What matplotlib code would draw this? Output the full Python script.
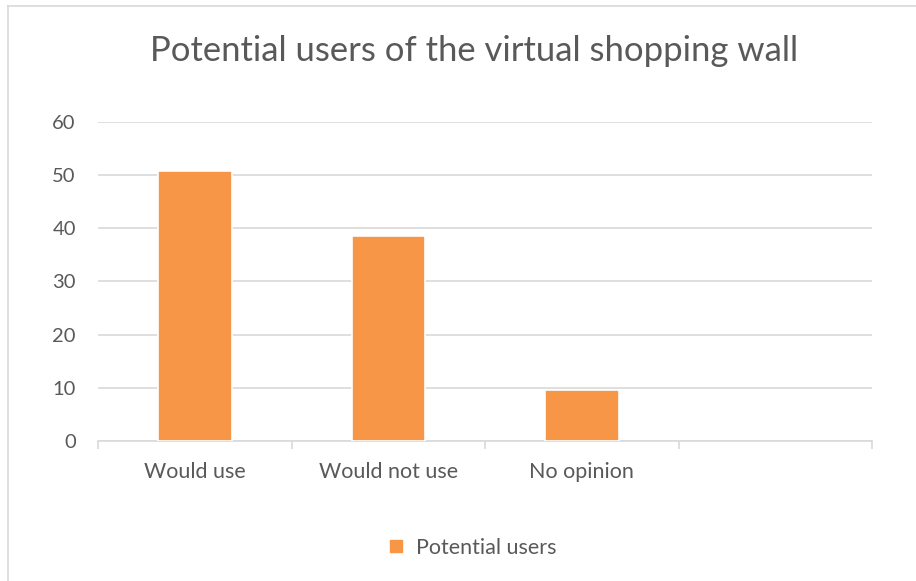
import matplotlib.pyplot as plt
from matplotlib.lines import Line2D

# survey answers
categories = ['Would use', 'Would not use', 'No opinion', '']
values = [50.7, 38.6, 9.6]
series_name = 'Potential users'

bar_color = '#F79646'
text_color = '#595959'
grid_color = '#D9D9D9'

plt.rcParams['font.family'] = ['Lato', 'DejaVu Sans']

fig = plt.figure(figsize=(9.16, 5.81), dpi=100)
ax = fig.add_axes([0.107, 0.241, 0.845, 0.549])

# chart frame (only top and left edges fall inside the image)
fig.add_artist(Line2D([7.5 / 916, 7.5 / 916], [0, 1 - 5.5 / 581],
                      color=grid_color, lw=1.2, transform=fig.transFigure))
fig.add_artist(Line2D([7.5 / 916, 1], [1 - 5.5 / 581, 1 - 5.5 / 581],
                      color=grid_color, lw=1.2, transform=fig.transFigure))

x = list(range(len(values)))
ax.bar(x, values, width=0.38, color=bar_color, edgecolor='white',
       linewidth=1.2, zorder=3, label=series_name)

ax.set_xlim(-0.5, len(categories) - 0.5)
ax.set_ylim(0, 60)
ax.set_yticks(range(0, 61, 10))
ax.set_xticks(range(len(categories)))
ax.set_xticklabels(categories)
ax.set_xticks([i - 0.5 for i in range(len(categories) + 1)], minor=True)

ax.tick_params(axis='y', length=0, pad=16, labelsize=14.5, labelcolor=text_color)
ax.tick_params(axis='x', which='major', length=0, pad=15, labelsize=15.5,
               labelcolor=text_color)
ax.tick_params(axis='x', which='minor', length=6, width=1.2, color=grid_color)

ax.grid(axis='y', color=grid_color, lw=1.2, zorder=0)
for side in ['top', 'right', 'left']:
    ax.spines[side].set_visible(False)
ax.spines['bottom'].set_color(grid_color)
ax.spines['bottom'].set_linewidth(1.2)

fig.text(0.517, 0.913, 'Potential users of the virtual shopping wall',
         ha='center', va='center', fontsize=24.9, color=text_color)

leg = fig.legend(handles=[Line2D([], [], marker='s', color=bar_color, ls='none',
                                 markersize=8, label=series_name)],
                 loc='center', bbox_to_anchor=(0.514, 0.057), frameon=False,
                 fontsize=15.5, handletextpad=0.4, handlelength=1.0)
for t in leg.get_texts():
    t.set_color(text_color)

fig.savefig('out.png', dpi=100)
